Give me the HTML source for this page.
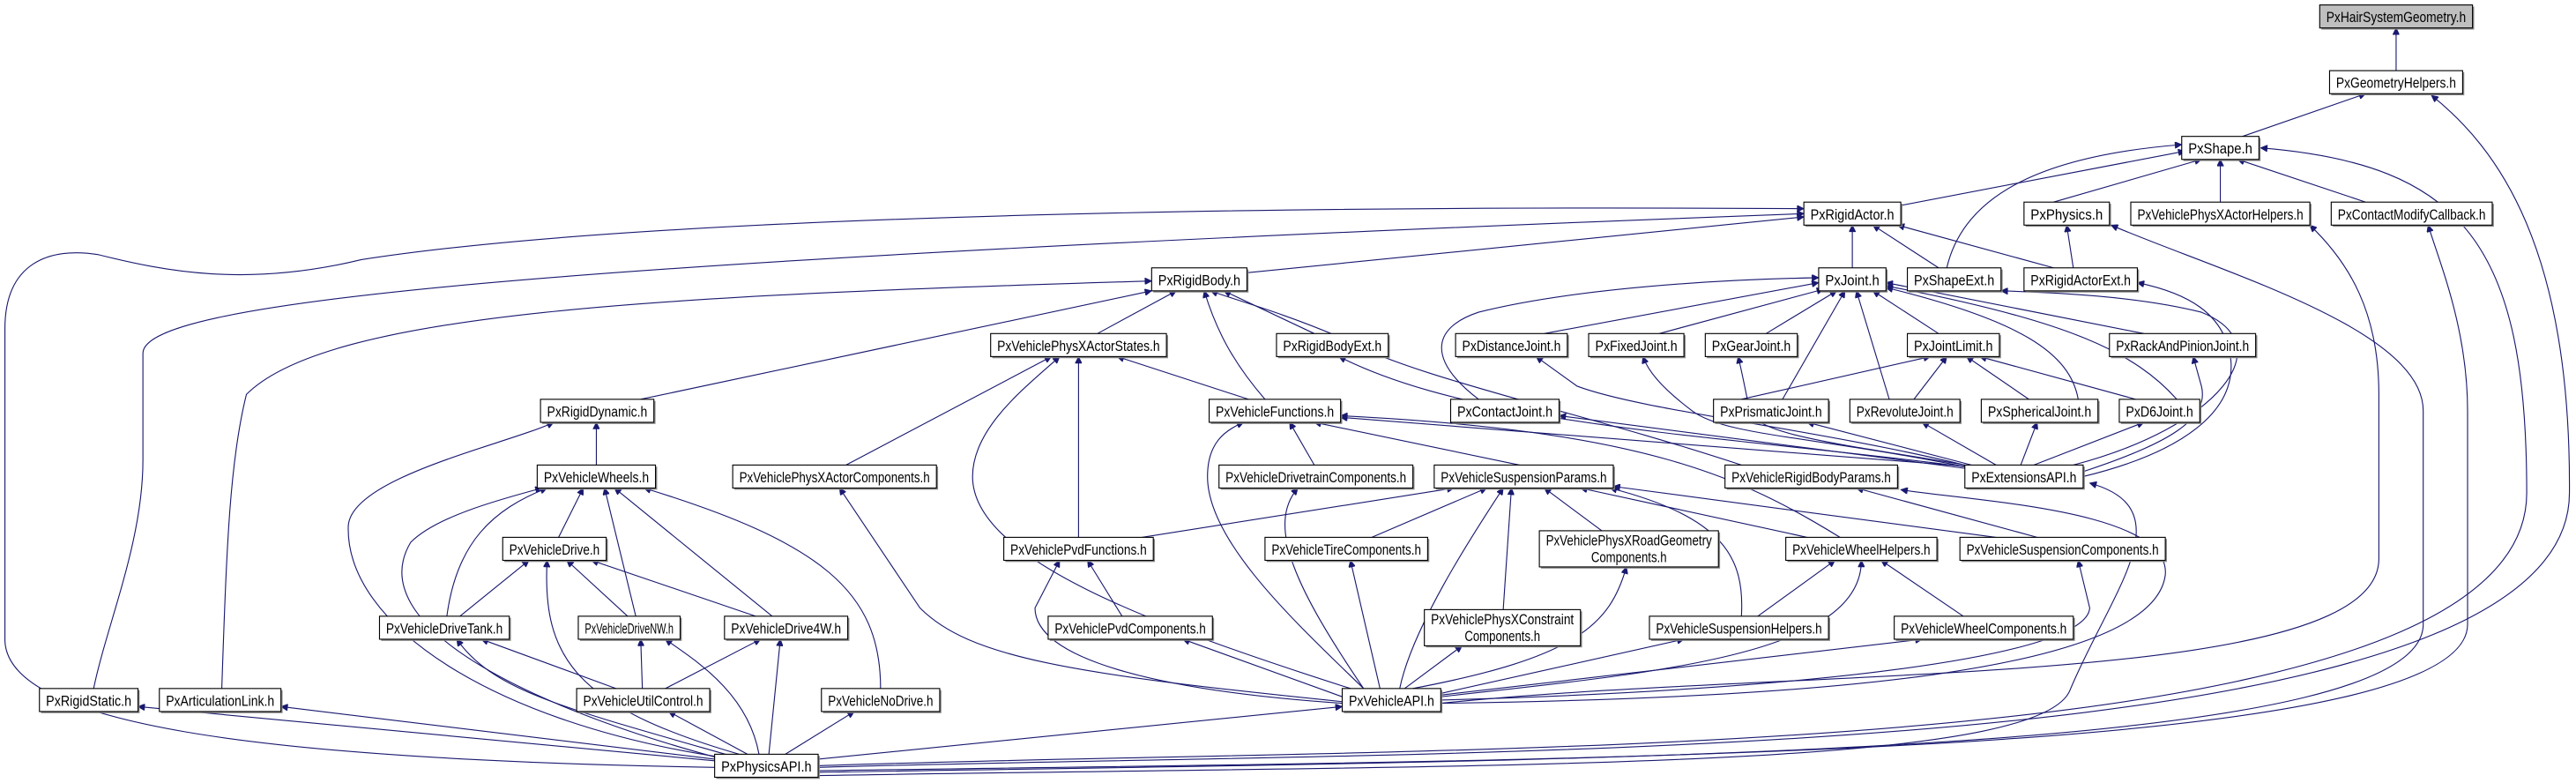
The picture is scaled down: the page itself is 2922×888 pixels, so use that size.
<!DOCTYPE html>
<html><head><meta charset="utf-8"><style>
html,body{margin:0;padding:0;background:#fff;}
svg{display:block;}
text{font-family:"Liberation Sans",sans-serif;font-size:9px;fill:#000;}
.e{fill:none;stroke:#191970;stroke-width:0.6;marker-end:url(#a);}
.n{fill:#fff;stroke:#000;stroke-width:0.6;}
.s{fill:#888;}
</style></head><body>
<svg width="2922" height="888" viewBox="0 0 1568 476.5" preserveAspectRatio="none" xmlns="http://www.w3.org/2000/svg">
<defs><marker id="a" viewBox="0 0 10 10" refX="10" refY="5" markerUnits="userSpaceOnUse" markerWidth="5.5" markerHeight="4" orient="auto"><path d="M0,0L10,5L0,10z" fill="#191970" stroke="#191970"/></marker></defs>
<g>
<path class="e" d="M1458.5,43L1458.5,17"/>
<path class="e" d="M1365,83L1440,57"/>
<path class="e" d="M498,467C900,455 1564,470 1564,300C1565,150 1520,90 1480,58"/>
<path class="e" d="M1157,125L1330,92"/>
<path class="e" d="M1250,123L1340,97"/>
<path class="e" d="M1351.5,123L1351.5,97"/>
<path class="e" d="M1440,123L1362,97"/>
<path class="e" d="M1185,163C1195,120 1240,95 1328,88"/>
<path class="e" d="M498,466C900,452 1538,470 1538,300C1538,150 1500,100 1376,90"/>
<path class="e" d="M1127.5,163L1127.5,137"/>
<path class="e" d="M1180,163L1140,137"/>
<path class="e" d="M1250,163L1155,137"/>
<path class="e" d="M759,166L1098,132"/>
<path class="e" d="M57,419C65,380 87,330 87,280L87,215C87,185 300,160 1098,130"/>
<path class="e" d="M435,467C150,462 5,440 3,390L3,200C3,160 30,150 60,155C100,165 150,175 220,158C400,130 800,125 1098,127"/>
<path class="e" d="M135,419C138,330 140,280 150,240C200,190 400,180 701,171"/>
<path class="e" d="M390,243L701,177"/>
<path class="e" d="M668,203L716,177"/>
<path class="e" d="M800,203L745,177"/>
<path class="e" d="M770,243C750,220 740,200 733,177"/>
<path class="e" d="M1060,283C960,250 860,230 815,205C780,190 750,182 737,177"/>
<path class="e" d="M515,283L640,217"/>
<path class="e" d="M822,419C700,380 592,340 592,290C592,260 625,235 645,217"/>
<path class="e" d="M656.5,327L656.5,217"/>
<path class="e" d="M760,243L680,217"/>
<path class="e" d="M830,419C790,380 735,330 735,290C735,270 745,262 757,257"/>
<path class="e" d="M800,283L785,257"/>
<path class="e" d="M925,283L800,257"/>
<path class="e" d="M1200,284L816,254"/>
<path class="e" d="M1120,327C1060,290 1000,262 816,253"/>
<path class="e" d="M940,203L1107,172"/>
<path class="e" d="M1010,203L1110,176"/>
<path class="e" d="M1075,203L1118,177"/>
<path class="e" d="M900,243C870,220 870,200 900,190C960,175 1050,170 1107,169"/>
<path class="e" d="M1085,243L1123,177"/>
<path class="e" d="M1150,243L1130,177"/>
<path class="e" d="M1180,203L1140,177"/>
<path class="e" d="M1265,243C1260,215 1230,195 1148,175"/>
<path class="e" d="M1325,243C1300,215 1260,195 1148,174"/>
<path class="e" d="M1305,203L1148,172"/>
<path class="e" d="M1060,243L1175,217"/>
<path class="e" d="M1165,243L1185,217"/>
<path class="e" d="M1235,243L1197,217"/>
<path class="e" d="M1300,243L1205,217"/>
<path class="e" d="M1200,283L1100,257"/>
<path class="e" d="M1215,283L1170,257"/>
<path class="e" d="M1230,283L1240,257"/>
<path class="e" d="M1238,283L1305,257"/>
<path class="e" d="M1268,287C1320,270 1345,255 1340,235L1335,217"/>
<path class="e" d="M1268,290C1330,275 1360,250 1358,220C1355,190 1330,178 1301,172"/>
<path class="e" d="M1262,283C1350,260 1390,210 1340,190C1300,180 1250,178 1218,177"/>
<path class="e" d="M1196,285L949,253"/>
<path class="e" d="M1196,284C1100,265 1050,265 1030,250C1010,235 1003,225 1000,217"/>
<path class="e" d="M1196,283C1120,270 1070,265 1065,250C1062,235 1060,225 1058,217"/>
<path class="e" d="M1196,283C1100,260 1000,250 960,235L935,217"/>
<path class="e" d="M1196,284C1050,265 900,260 815,217"/>
<path class="e" d="M1262,163L1258,137"/>
<path class="e" d="M498,470C1000,462 1475,460 1475,380L1475,250C1475,200 1350,165 1285,137"/>
<path class="e" d="M877,428C1100,405 1448,420 1448,340L1448,240C1448,190 1430,160 1406,137"/>
<path class="e" d="M498,469C1000,462 1502,460 1502,380L1502,250C1502,200 1485,160 1478,137"/>
<path class="e" d="M498,472C900,465 1240,470 1260,420C1285,360 1330,310 1272,294"/>
<path class="e" d="M877,428C1100,425 1310,410 1318,350C1322,310 1200,305 1157,298"/>
<path class="e" d="M1240,327L1130,297"/>
<path class="e" d="M877,426C1100,420 1270,400 1272,370L1265,341"/>
<path class="e" d="M695,327L885,297"/>
<path class="e" d="M835,327L905,297"/>
<path class="e" d="M915,371L920,297"/>
<path class="e" d="M852,419C860,380 900,320 915,297"/>
<path class="e" d="M975,323L940,297"/>
<path class="e" d="M1100,327L962,297"/>
<path class="e" d="M1060,375C1062,340 1050,315 980,297"/>
<path class="e" d="M1215,327L982,296"/>
<path class="e" d="M840,419L822,341"/>
<path class="e" d="M830,419C790,360 770,320 790,297"/>
<path class="e" d="M860,419C960,400 980,380 990,345"/>
<path class="e" d="M855,419L890,393"/>
<path class="e" d="M877,422L1025,389"/>
<path class="e" d="M877,424C1000,410 1133,400 1133,341"/>
<path class="e" d="M1070,375L1117,341"/>
<path class="e" d="M1195,375L1145,341"/>
<path class="e" d="M877,423L1170,389"/>
<path class="e" d="M817,424L720,389"/>
<path class="e" d="M817,428C700,420 630,400 630,370L645,341"/>
<path class="e" d="M683,375L662,341"/>
<path class="e" d="M817,427C650,410 590,400 560,370L511,297"/>
<path class="e" d="M498,462L817,430"/>
<path class="e" d="M363,283L363,257"/>
<path class="e" d="M440,461C300,440 210,380 212,320C214,290 310,270 337,257"/>
<path class="e" d="M340,327L355,297"/>
<path class="e" d="M272,375C278,330 300,310 333,297"/>
<path class="e" d="M387,375L368,297"/>
<path class="e" d="M470,375L374,297"/>
<path class="e" d="M536,419C536,360 500,330 392,297"/>
<path class="e" d="M440,462C320,430 220,380 250,330C265,315 300,305 330,297"/>
<path class="e" d="M280,375L322,341"/>
<path class="e" d="M382,375L345,341"/>
<path class="e" d="M460,375L360,341"/>
<path class="e" d="M450,459C350,430 330,400 333,341"/>
<path class="e" d="M375,419L293,389"/>
<path class="e" d="M445,460C340,430 300,420 278,389"/>
<path class="e" d="M391,419L390,389"/>
<path class="e" d="M462,459C455,420 420,400 405,389"/>
<path class="e" d="M405,419L463,389"/>
<path class="e" d="M468,459L475,389"/>
<path class="e" d="M455,459L407,433"/>
<path class="e" d="M478,459L520,433"/>
<path class="e" d="M435,463L84,430"/>
<path class="e" d="M435,462L171,430"/>
</g>
<g>
<rect class="s" x="1413" y="4" width="93" height="14"/><rect x="1412" y="3" width="93" height="14" fill="#bfbfbf" stroke="#000" stroke-width="0.6"/><text x="1458.5" y="13.5" text-anchor="middle" textLength="85" lengthAdjust="spacingAndGlyphs">PxHairSystemGeometry.h</text>
<rect class="s" x="1419" y="44" width="81" height="14"/><rect class="n" x="1418" y="43" width="81" height="14"/><text x="1458.5" y="53.5" text-anchor="middle" textLength="73" lengthAdjust="spacingAndGlyphs">PxGeometryHelpers.h</text>
<rect class="s" x="1329" y="84" width="47" height="14"/><rect class="n" x="1328" y="83" width="47" height="14"/><text x="1351.5" y="93.5" text-anchor="middle" textLength="39" lengthAdjust="spacingAndGlyphs">PxShape.h</text>
<rect class="s" x="1099" y="124" width="59" height="14"/><rect class="n" x="1098" y="123" width="59" height="14"/><text x="1127.5" y="133.5" text-anchor="middle" textLength="51" lengthAdjust="spacingAndGlyphs">PxRigidActor.h</text>
<rect class="s" x="1233" y="124" width="52" height="14"/><rect class="n" x="1232" y="123" width="52" height="14"/><text x="1258" y="133.5" text-anchor="middle" textLength="44" lengthAdjust="spacingAndGlyphs">PxPhysics.h</text>
<rect class="s" x="1298" y="124" width="109" height="14"/><rect class="n" x="1297" y="123" width="109" height="14"/><text x="1351.5" y="133.5" text-anchor="middle" textLength="101" lengthAdjust="spacingAndGlyphs">PxVehiclePhysXActorHelpers.h</text>
<rect class="s" x="1420" y="124" width="98" height="14"/><rect class="n" x="1419" y="123" width="98" height="14"/><text x="1468" y="133.5" text-anchor="middle" textLength="90" lengthAdjust="spacingAndGlyphs">PxContactModifyCallback.h</text>
<rect class="s" x="1108" y="164" width="41" height="14"/><rect class="n" x="1107" y="163" width="41" height="14"/><text x="1127.5" y="173.5" text-anchor="middle" textLength="33" lengthAdjust="spacingAndGlyphs">PxJoint.h</text>
<rect class="s" x="1162" y="164" width="57" height="14"/><rect class="n" x="1161" y="163" width="57" height="14"/><text x="1189.5" y="173.5" text-anchor="middle" textLength="49" lengthAdjust="spacingAndGlyphs">PxShapeExt.h</text>
<rect class="s" x="1233" y="164" width="69" height="14"/><rect class="n" x="1232" y="163" width="69" height="14"/><text x="1266.5" y="173.5" text-anchor="middle" textLength="61" lengthAdjust="spacingAndGlyphs">PxRigidActorExt.h</text>
<rect class="s" x="702" y="164" width="58" height="14"/><rect class="n" x="701" y="163" width="58" height="14"/><text x="730" y="173.5" text-anchor="middle" textLength="50" lengthAdjust="spacingAndGlyphs">PxRigidBody.h</text>
<rect class="s" x="604" y="204" width="107" height="14"/><rect class="n" x="603" y="203" width="107" height="14"/><text x="656.5" y="213.5" text-anchor="middle" textLength="99" lengthAdjust="spacingAndGlyphs">PxVehiclePhysXActorStates.h</text>
<rect class="s" x="778" y="204" width="68" height="14"/><rect class="n" x="777" y="203" width="68" height="14"/><text x="811" y="213.5" text-anchor="middle" textLength="60" lengthAdjust="spacingAndGlyphs">PxRigidBodyExt.h</text>
<rect class="s" x="887" y="204" width="68" height="14"/><rect class="n" x="886" y="203" width="68" height="14"/><text x="920" y="213.5" text-anchor="middle" textLength="60" lengthAdjust="spacingAndGlyphs">PxDistanceJoint.h</text>
<rect class="s" x="968" y="204" width="58" height="14"/><rect class="n" x="967" y="203" width="58" height="14"/><text x="996" y="213.5" text-anchor="middle" textLength="50" lengthAdjust="spacingAndGlyphs">PxFixedJoint.h</text>
<rect class="s" x="1039" y="204" width="56" height="14"/><rect class="n" x="1038" y="203" width="56" height="14"/><text x="1066" y="213.5" text-anchor="middle" textLength="48" lengthAdjust="spacingAndGlyphs">PxGearJoint.h</text>
<rect class="s" x="1162" y="204" width="56" height="14"/><rect class="n" x="1161" y="203" width="56" height="14"/><text x="1189" y="213.5" text-anchor="middle" textLength="48" lengthAdjust="spacingAndGlyphs">PxJointLimit.h</text>
<rect class="s" x="1285" y="204" width="89" height="14"/><rect class="n" x="1284" y="203" width="89" height="14"/><text x="1328.5" y="213.5" text-anchor="middle" textLength="81" lengthAdjust="spacingAndGlyphs">PxRackAndPinionJoint.h</text>
<rect class="s" x="330" y="244" width="69" height="14"/><rect class="n" x="329" y="243" width="69" height="14"/><text x="363.5" y="253.5" text-anchor="middle" textLength="61" lengthAdjust="spacingAndGlyphs">PxRigidDynamic.h</text>
<rect class="s" x="737" y="244" width="80" height="14"/><rect class="n" x="736" y="243" width="80" height="14"/><text x="776" y="253.5" text-anchor="middle" textLength="72" lengthAdjust="spacingAndGlyphs">PxVehicleFunctions.h</text>
<rect class="s" x="884" y="244" width="66" height="14"/><rect class="n" x="883" y="243" width="66" height="14"/><text x="916" y="253.5" text-anchor="middle" textLength="58" lengthAdjust="spacingAndGlyphs">PxContactJoint.h</text>
<rect class="s" x="1044" y="244" width="70" height="14"/><rect class="n" x="1043" y="243" width="70" height="14"/><text x="1078" y="253.5" text-anchor="middle" textLength="62" lengthAdjust="spacingAndGlyphs">PxPrismaticJoint.h</text>
<rect class="s" x="1127" y="244" width="67" height="14"/><rect class="n" x="1126" y="243" width="67" height="14"/><text x="1159.5" y="253.5" text-anchor="middle" textLength="59" lengthAdjust="spacingAndGlyphs">PxRevoluteJoint.h</text>
<rect class="s" x="1207" y="244" width="71" height="14"/><rect class="n" x="1206" y="243" width="71" height="14"/><text x="1241.5" y="253.5" text-anchor="middle" textLength="63" lengthAdjust="spacingAndGlyphs">PxSphericalJoint.h</text>
<rect class="s" x="1291" y="244" width="49" height="14"/><rect class="n" x="1290" y="243" width="49" height="14"/><text x="1314.5" y="253.5" text-anchor="middle" textLength="41" lengthAdjust="spacingAndGlyphs">PxD6Joint.h</text>
<rect class="s" x="328" y="284" width="72" height="14"/><rect class="n" x="327" y="283" width="72" height="14"/><text x="363" y="293.5" text-anchor="middle" textLength="64" lengthAdjust="spacingAndGlyphs">PxVehicleWheels.h</text>
<rect class="s" x="447" y="284" width="124" height="14"/><rect class="n" x="446" y="283" width="124" height="14"/><text x="508" y="293.5" text-anchor="middle" textLength="116" lengthAdjust="spacingAndGlyphs">PxVehiclePhysXActorComponents.h</text>
<rect class="s" x="743" y="284" width="118" height="14"/><rect class="n" x="742" y="283" width="118" height="14"/><text x="801" y="293.5" text-anchor="middle" textLength="110" lengthAdjust="spacingAndGlyphs">PxVehicleDrivetrainComponents.h</text>
<rect class="s" x="874" y="284" width="109" height="14"/><rect class="n" x="873" y="283" width="109" height="14"/><text x="927.5" y="293.5" text-anchor="middle" textLength="101" lengthAdjust="spacingAndGlyphs">PxVehicleSuspensionParams.h</text>
<rect class="s" x="1051" y="284" width="105" height="14"/><rect class="n" x="1050" y="283" width="105" height="14"/><text x="1102.5" y="293.5" text-anchor="middle" textLength="97" lengthAdjust="spacingAndGlyphs">PxVehicleRigidBodyParams.h</text>
<rect class="s" x="1197" y="284" width="72" height="14"/><rect class="n" x="1196" y="283" width="72" height="14"/><text x="1232" y="293.5" text-anchor="middle" textLength="64" lengthAdjust="spacingAndGlyphs">PxExtensionsAPI.h</text>
<rect class="s" x="307" y="328" width="63" height="14"/><rect class="n" x="306" y="327" width="63" height="14"/><text x="337.5" y="337.5" text-anchor="middle" textLength="55" lengthAdjust="spacingAndGlyphs">PxVehicleDrive.h</text>
<rect class="s" x="612" y="328" width="91" height="14"/><rect class="n" x="611" y="327" width="91" height="14"/><text x="656.5" y="337.5" text-anchor="middle" textLength="83" lengthAdjust="spacingAndGlyphs">PxVehiclePvdFunctions.h</text>
<rect class="s" x="771" y="328" width="99" height="14"/><rect class="n" x="770" y="327" width="99" height="14"/><text x="819.5" y="337.5" text-anchor="middle" textLength="91" lengthAdjust="spacingAndGlyphs">PxVehicleTireComponents.h</text>
<rect class="s" x="938" y="324" width="109" height="22"/><rect class="n" x="937" y="323" width="109" height="22"/><text x="991.5" y="332" text-anchor="middle" textLength="101" lengthAdjust="spacingAndGlyphs">PxVehiclePhysXRoadGeometry</text><text x="991.5" y="342" text-anchor="middle" textLength="46" lengthAdjust="spacingAndGlyphs">Components.h</text>
<rect class="s" x="1088" y="328" width="92" height="14"/><rect class="n" x="1087" y="327" width="92" height="14"/><text x="1133" y="337.5" text-anchor="middle" textLength="84" lengthAdjust="spacingAndGlyphs">PxVehicleWheelHelpers.h</text>
<rect class="s" x="1194" y="328" width="125" height="14"/><rect class="n" x="1193" y="327" width="125" height="14"/><text x="1255.5" y="337.5" text-anchor="middle" textLength="117" lengthAdjust="spacingAndGlyphs">PxVehicleSuspensionComponents.h</text>
<rect class="s" x="232" y="376" width="79" height="14"/><rect class="n" x="231" y="375" width="79" height="14"/><text x="270.5" y="385.5" text-anchor="middle" textLength="71" lengthAdjust="spacingAndGlyphs">PxVehicleDriveTank.h</text>
<rect class="s" x="353" y="376" width="62" height="14"/><rect class="n" x="352" y="375" width="62" height="14"/><text x="383" y="385.5" text-anchor="middle" textLength="54" lengthAdjust="spacingAndGlyphs">PxVehicleDriveNW.h</text>
<rect class="s" x="442" y="376" width="75" height="14"/><rect class="n" x="441" y="375" width="75" height="14"/><text x="478.5" y="385.5" text-anchor="middle" textLength="67" lengthAdjust="spacingAndGlyphs">PxVehicleDrive4W.h</text>
<rect class="s" x="639" y="376" width="100" height="14"/><rect class="n" x="638" y="375" width="100" height="14"/><text x="688" y="385.5" text-anchor="middle" textLength="92" lengthAdjust="spacingAndGlyphs">PxVehiclePvdComponents.h</text>
<rect class="s" x="868" y="372" width="95" height="22"/><rect class="n" x="867" y="371" width="95" height="22"/><text x="914.5" y="380" text-anchor="middle" textLength="87" lengthAdjust="spacingAndGlyphs">PxVehiclePhysXConstraint</text><text x="914.5" y="390" text-anchor="middle" textLength="46" lengthAdjust="spacingAndGlyphs">Components.h</text>
<rect class="s" x="1005" y="376" width="109" height="14"/><rect class="n" x="1004" y="375" width="109" height="14"/><text x="1058.5" y="385.5" text-anchor="middle" textLength="101" lengthAdjust="spacingAndGlyphs">PxVehicleSuspensionHelpers.h</text>
<rect class="s" x="1154" y="376" width="109" height="14"/><rect class="n" x="1153" y="375" width="109" height="14"/><text x="1207.5" y="385.5" text-anchor="middle" textLength="101" lengthAdjust="spacingAndGlyphs">PxVehicleWheelComponents.h</text>
<rect class="s" x="25" y="420" width="60" height="14"/><rect class="n" x="24" y="419" width="60" height="14"/><text x="54" y="429.5" text-anchor="middle" textLength="52" lengthAdjust="spacingAndGlyphs">PxRigidStatic.h</text>
<rect class="s" x="98" y="420" width="74" height="14"/><rect class="n" x="97" y="419" width="74" height="14"/><text x="134" y="429.5" text-anchor="middle" textLength="66" lengthAdjust="spacingAndGlyphs">PxArticulationLink.h</text>
<rect class="s" x="352" y="420" width="81" height="14"/><rect class="n" x="351" y="419" width="81" height="14"/><text x="391.5" y="429.5" text-anchor="middle" textLength="73" lengthAdjust="spacingAndGlyphs">PxVehicleUtilControl.h</text>
<rect class="s" x="501" y="420" width="72" height="14"/><rect class="n" x="500" y="419" width="72" height="14"/><text x="536" y="429.5" text-anchor="middle" textLength="64" lengthAdjust="spacingAndGlyphs">PxVehicleNoDrive.h</text>
<rect class="s" x="818" y="420" width="60" height="14"/><rect class="n" x="817" y="419" width="60" height="14"/><text x="847" y="429.5" text-anchor="middle" textLength="52" lengthAdjust="spacingAndGlyphs">PxVehicleAPI.h</text>
<rect class="s" x="436" y="460" width="63" height="14"/><rect class="n" x="435" y="459" width="63" height="14"/><text x="466.5" y="469.5" text-anchor="middle" textLength="55" lengthAdjust="spacingAndGlyphs">PxPhysicsAPI.h</text>
</g>
</svg>
</body></html>
